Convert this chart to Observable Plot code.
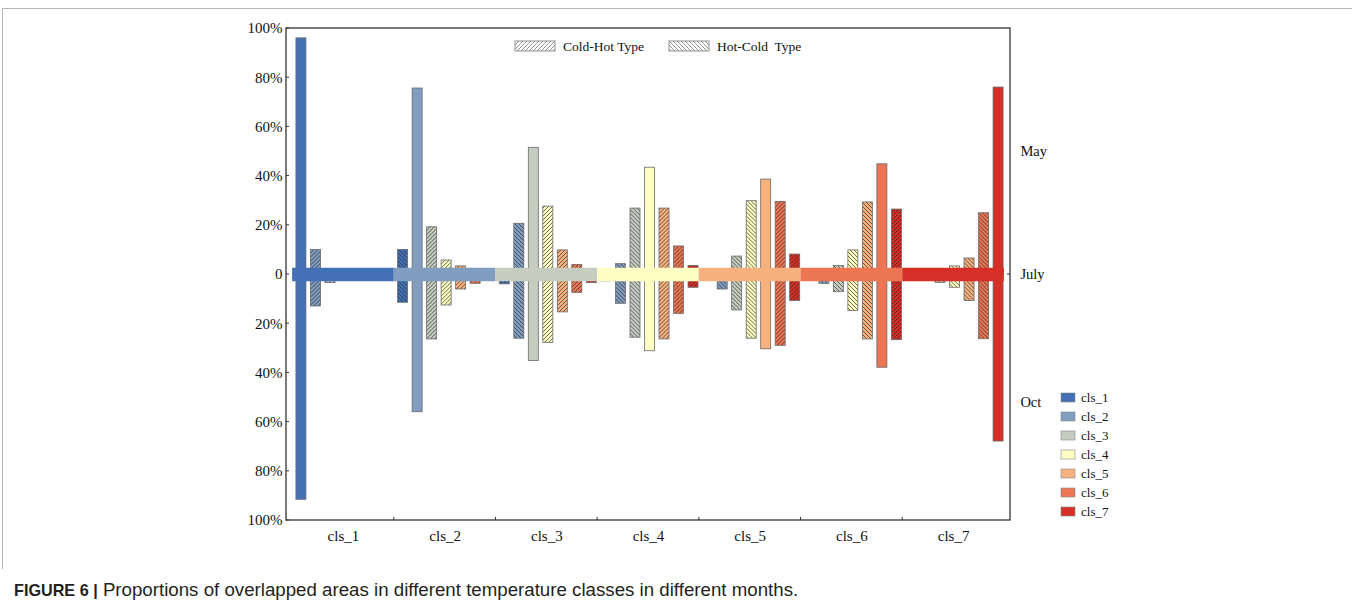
<!DOCTYPE html>
<html>
<head>
<meta charset="utf-8">
<script src="https://cdn.jsdelivr.net/npm/d3@7"></script>
<script src="https://cdn.jsdelivr.net/npm/@observablehq/plot@0.6"></script>
<style>
  html, body { margin: 0; padding: 0; background: #fff; }
  #wrap { position: relative; width: 1352px; height: 606px; overflow: hidden; }
  #border { position: absolute; left: 2px; top: 8px; width: 1360px; height: 560px;
            border-left: 1px solid #b8b8b8; border-top: 1px solid #b8b8b8; }
  #chart { position: absolute; left: 0; top: 0; }
  #caption { position: absolute; left: 14px; top: 579px; font-family: "Liberation Sans", Arial, sans-serif;
             font-size: 18.7px; line-height: 22px; color: #231f20; white-space: nowrap; }
  #caption b { font-weight: bold; font-size: 16.2px; }
</style>
</head>
<body>
<div id="wrap">
  <div id="border"></div>
  <div id="chart"></div>
  <div id="caption"><b>FIGURE 6 |</b> Proportions of overlapped areas in different temperature classes in different months.</div>
</div>
<script>
// ---- data ----
const groups = ["cls_1", "cls_2", "cls_3", "cls_4", "cls_5", "cls_6", "cls_7"];
const classes = ["cls_1", "cls_2", "cls_3", "cls_4", "cls_5", "cls_6", "cls_7"];
const classColors = ["#4471b6", "#819dbf", "#c4cdc0", "#fefec2", "#f7b17e", "#ec7553", "#d52f28"];

// May proportions (upward), one row per group, one value per class
const mayValues = [
  [96, 10, 1, 0, 0, 0, 0],
  [10, 75.6, 19.2, 5.7, 3.3, 1, 0],
  [1, 20.6, 51.5, 27.6, 9.8, 3.9, 1],
  [0.5, 4.2, 26.8, 43.4, 26.8, 11.4, 3.5],
  [0, 1, 7.3, 29.8, 38.6, 29.5, 8.1],
  [0, 1, 3.5, 9.8, 29.3, 44.8, 26.4],
  [0, 0, 1, 3.3, 6.5, 24.9, 76]
];
// October proportions (downward)
const octValues = [
  [91.6, 13, 3.5, 0, 0, 0, 0],
  [11.5, 56, 26.4, 12.6, 6.1, 3.8, 0],
  [4, 26.1, 35.2, 27.8, 15.4, 7.5, 3.5],
  [2.8, 11.9, 25.7, 31.2, 26.4, 16, 5.4],
  [0, 6.1, 14.6, 26.1, 30.4, 29, 10.8],
  [0, 3.8, 7.2, 14.8, 26.4, 37.9, 26.7],
  [0, 0, 3.4, 5.4, 10.8, 26.3, 67.9]
];
const monthLabels = ["May", "July", "Oct"];
const monthValues = [50, 0, -52];
const yTicks = [-100, -80, -60, -40, -20, 0, 20, 40, 60, 80, 100];
const typeLabels = ["Cold-Hot Type", "Hot-Cold  Type"];

// ---- derived tables ----
const bars = [];
groups.forEach((g, gi) => classes.forEach((c, ci) => {
  const up = mayValues[gi][ci], down = octValues[gi][ci];
  if (up + down > 0) bars.push({
    group: g, cls: c, may: up, oct: -down,
    fill: ci === gi ? classColors[ci] : `url(#${ci < gi ? "hc" : "ch"}-${ci})`
  });
}));
const julyBand = groups.map((g, i) => ({group: g, july: 0, color: classColors[i]}));
const months = monthLabels.map((m, i) => ({label: m, value: monthValues[i], group: groups[groups.length - 1]}));

const W = 1352, H = 570, mL = 286, mR = 342, mT = 28, mB = 50;

const chart = Plot.plot({
  width: W, height: H,
  marginLeft: mL, marginRight: mR, marginTop: mT, marginBottom: mB,
  style: {fontFamily: "'Liberation Serif', 'Times New Roman', serif", fontSize: "15px", color: "#111", background: "transparent"},
  fx: {domain: groups, paddingInner: 0, paddingOuter: 0.06, round: false, label: null, tickSize: 0, tickPadding: 10, axis: "bottom"},
  x: {domain: classes, paddingInner: 0.31, paddingOuter: 0.16, round: false, axis: null},
  y: {domain: [-100, 100], ticks: yTicks, tickSize: 0, tickPadding: 10, label: null,
      tickFormat: d => d === 0 ? "0" : Math.abs(d) + "%"},
  color: {type: "identity"},
  marks: [
    Plot.barY(bars, {fx: "group", x: "cls", y1: "oct", y2: "may", fill: "fill",
                     stroke: "#6a6a6a", strokeWidth: 0.8, dx: 1.5}),
    Plot.ruleY(julyBand, {fx: "group", y: "july", stroke: "color", strokeWidth: 13.5}),
    Plot.text(months, {fx: "group", y: "value", text: "label", frameAnchor: "right",
                       textAnchor: "start", dx: 16, fontSize: 14.5, fill: "#111"})
  ]
});
document.getElementById("chart").appendChild(chart);

// ---- decorations using the plot's scales ----
const svg = d3.select(chart);
const ys = chart.scale("y"), fxs = chart.scale("fx");
const defs = svg.insert("defs", ":first-child");
function addPattern(id, bg, line, fwd, op) {
  const p = defs.append("pattern").attr("id", id).attr("patternUnits", "userSpaceOnUse")
    .attr("width", 4).attr("height", 4);
  p.append("rect").attr("width", 4).attr("height", 4).attr("fill", bg);
  p.append("path")
    .attr("d", fwd ? "M0,4L4,0M-1,1L1,-1M3,5L5,3" : "M0,0L4,4M-1,3L1,5M3,-1L5,1")
    .attr("stroke", line).attr("stroke-width", 0.8).attr("stroke-opacity", op);
}
classColors.forEach((c, i) => {
  addPattern(`ch-${i}`, c, "#222", true, 0.85);
  addPattern(`hc-${i}`, c, "#222", false, 0.85);
});
addPattern("ch-leg", "#fff", "#777", true, 1);
addPattern("hc-leg", "#fff", "#777", false, 1);

const x0 = mL, x1 = W - mR, y0 = mT, y1 = H - mB;
const deco = svg.append("g").attr("text-anchor", "start");
deco.append("rect").attr("x", x0).attr("y", y0).attr("width", x1 - x0).attr("height", y1 - y0)
  .attr("fill", "none").attr("stroke", "#333").attr("stroke-width", 1.3);
yTicks.forEach(t => deco.append("line").attr("x1", x0).attr("x2", x0 + 3)
  .attr("y1", ys.apply(t)).attr("y2", ys.apply(t)).attr("stroke", "#333"));
groups.slice(1).forEach(g => {
  const gx = fxs.apply(g);
  deco.append("line").attr("x1", gx).attr("x2", gx).attr("y1", y1).attr("y2", y1 - 3).attr("stroke", "#333");
});
deco.append("line").attr("x1", x1 - 3).attr("x2", x1).attr("y1", ys.apply(0)).attr("y2", ys.apply(0)).attr("stroke", "#333");

// top legend (hatch types)
const legTop = [{x: 515, id: "ch-leg"}, {x: 669, id: "hc-leg"}];
legTop.forEach((l, i) => {
  deco.append("rect").attr("x", l.x).attr("y", 41).attr("width", 40).attr("height", 10)
    .attr("fill", `url(#${l.id})`).attr("stroke", "#777").attr("stroke-width", 0.8);
  deco.append("text").attr("x", l.x + 48).attr("y", 50.5).text(typeLabels[i])
    .attr("text-anchor", "start").attr("font-size", 13.5).attr("fill", "#111").style("white-space", "pre");
});

// class legend (bottom right)
classes.forEach((c, i) => {
  const cy = 397.5 + i * 19;
  deco.append("rect").attr("x", 1061).attr("y", cy - 4.5).attr("width", 14).attr("height", 9)
    .attr("fill", classColors[i]).attr("stroke", "#888").attr("stroke-width", 0.6);
  deco.append("text").attr("x", 1081).attr("y", cy + 4.2).text(c)
    .attr("text-anchor", "start").attr("font-size", 13).attr("fill", "#111");
});
</script>
</body>
</html>
